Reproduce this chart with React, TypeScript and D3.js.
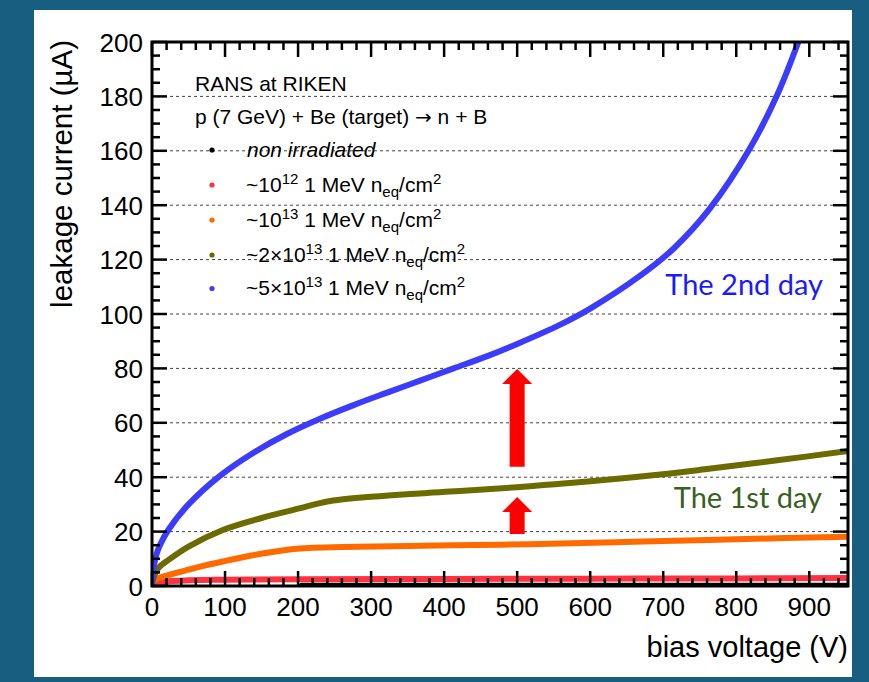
import * as d3 from 'd3';

// (bias voltage in V, leakage current in µA)
const nonIrrV = [205, 300, 400, 500, 600, 700, 800, 900, 953];
const nonIrrI = [0.1, 0.1, 0.1, 0.1, 0.1, 0.1, 0.1, 0.1, 0.1];

const e12V = [0, 10, 25, 50, 100, 200, 400, 600, 800, 953];
const e12I = [0, 1.2, 1.8, 2.1, 2.3, 2.5, 2.6, 2.7, 2.8, 2.9];

const e13V = [0, 2, 5, 10, 22, 50, 66, 97, 134, 160, 194, 215, 260, 350, 477, 559, 700, 800, 953];
const e13I = [0, 1.5, 2.3, 3, 4, 6, 7.1, 9, 11.1, 12.3, 13.6, 14, 14.3, 14.7, 15.2, 15.6, 16.5, 17.2, 18.1];

const e2x13V = [0, 2, 5, 10, 22, 50, 97, 150, 203, 227, 248, 300, 408, 500, 559, 600, 696, 757, 856, 953];
const e2x13I = [0, 3, 5, 7, 9.5, 14.5, 20.6, 25, 28.6, 30.3, 31.4, 32.8, 34.7, 36.3, 37.6, 38.5, 41, 42.9, 46.2, 49.6];

const e5x13V = [0, 1, 3, 6, 10, 22, 50, 93, 139, 184, 230, 276, 321, 367, 413, 460, 500, 559, 600, 668, 714, 764, 819, 856, 885];
const e5x13I = [0, 4.5, 8, 11.5, 14.5, 20.5, 30, 40.5, 49, 55.8, 61.5, 66.5, 71, 75.5, 80, 84.6, 89, 96.1, 102, 114, 124, 138.8, 161, 180.5, 200];

const seriesColors = ['#000000', '#ff3340', '#ff6a00', '#6b6b00', '#3c3cff'];

const xMajorTicks = [0, 100, 200, 300, 400, 500, 600, 700, 800, 900];
const yMajorTicks = [0, 20, 40, 60, 80, 100, 120, 140, 160, 180, 200];

// red arrows: [voltage, from µA, to µA]
const arrowSmall = [500, 19.1, 32.7];
const arrowBig = [500, 43.8, 79.8];

const series = [
  { v: nonIrrV, i: nonIrrI },
  { v: e12V, i: e12I },
  { v: e13V, i: e13I },
  { v: e2x13V, i: e2x13I },
  { v: e5x13V, i: e5x13I },
];

const W = 869;
const H = 682;
const plot = { left: 152, right: 848, top: 42, bottom: 586 };
const FONT = '"Liberation Sans", Arial, Helvetica, sans-serif';

export default function App() {
  const x = d3.scaleLinear().domain([0, 953]).range([plot.left, plot.right]);
  const y = d3.scaleLinear().domain([0, 200]).range([plot.bottom, plot.top]);

  const line = d3
    .line<[number, number]>()
    .x(d => x(d[0]))
    .y(d => y(d[1]))
    .curve(d3.curveCatmullRom.alpha(0.5));

  const xMinor = d3.range(0, 953, 20).filter(v => v % 100 !== 0);
  const yMinor = d3.range(0, 200, 5).filter(v => v % 20 !== 0);

  const arrow = (a: number[]) => {
    const cx = x(a[0]);
    const y0 = y(a[1]);
    const y1 = y(a[2]);
    const head = 15;
    const sw = 7.5;
    const hw = 15;
    return `M${cx - sw},${y0} L${cx - sw},${y1 + head} L${cx - hw},${y1 + head} L${cx},${y1} L${cx + hw},${y1 + head} L${cx + sw},${y1 + head} L${cx + sw},${y0} Z`;
  };

  const legendRows = [
    { color: seriesColors[0], my: 150 },
    { color: seriesColors[1], my: 185 },
    { color: seriesColors[2], my: 220 },
    { color: seriesColors[3], my: 255 },
    { color: seriesColors[4], my: 288.5 },
  ];

  const neq = (pre: string, exp: string, base: number) => (
    <text x={246} y={base} fontSize={21} fontFamily={FONT} fill="#000">
      <tspan>{pre}</tspan>
      <tspan dy={-8} fontSize={15}>{exp}</tspan>
      <tspan dy={8}> 1 MeV n</tspan>
      <tspan dy={5} fontSize={15}>eq</tspan>
      <tspan dy={-5}>/cm</tspan>
      <tspan dy={-8} fontSize={15}>2</tspan>
    </text>
  );

  return (
    <svg width={W} height={H} style={{ position: 'absolute', left: 0, top: 0 }}>
      <defs>
        <clipPath id="frame">
          <rect x={plot.left} y={plot.top} width={plot.right - plot.left} height={plot.bottom - plot.top} />
        </clipPath>
      </defs>
      <rect x={0} y={0} width={W} height={H} fill="#185e80" />
      <rect x={34} y={10} width={818} height={667} fill="#fff" />

      {/* grid */}
      {yMajorTicks.filter(t => t > 0 && t < 200).map(t => (
        <line key={t} x1={plot.left} x2={plot.right} y1={y(t)} y2={y(t)} stroke="#444" strokeWidth={1} strokeDasharray="3,3" />
      ))}

      {/* curves */}
      <g clipPath="url(#frame)">
        {series.map((s, k) => {
          const pts = s.v.map((v, j) => [v, s.i[j]] as [number, number]);
          return (
            <path key={k} d={line(pts) || ''} fill="none" stroke={seriesColors[k]} strokeWidth={6} strokeLinejoin="round" strokeLinecap="round" />
          );
        })}
      </g>

      {/* arrows */}
      <path d={arrow(arrowBig)} fill="#ff0000" />
      <path d={arrow(arrowSmall)} fill="#ff0000" />

      {/* frame and ticks */}
      <g stroke="#000">
        {xMajorTicks.map(t => (
          <g key={t}>
            <line x1={x(t)} x2={x(t)} y1={plot.bottom} y2={plot.bottom - 15} strokeWidth={2.5} />
            <line x1={x(t)} x2={x(t)} y1={plot.top} y2={plot.top + 15} strokeWidth={2.5} />
          </g>
        ))}
        {xMinor.map(t => (
          <g key={t}>
            <line x1={x(t)} x2={x(t)} y1={plot.bottom} y2={plot.bottom - 8} strokeWidth={2.5} />
            <line x1={x(t)} x2={x(t)} y1={plot.top} y2={plot.top + 8} strokeWidth={2.5} />
          </g>
        ))}
        {yMajorTicks.map(t => (
          <g key={t}>
            <line x1={plot.left} x2={plot.left + 15} y1={y(t)} y2={y(t)} strokeWidth={2.5} />
            <line x1={plot.right} x2={plot.right - 15} y1={y(t)} y2={y(t)} strokeWidth={2.5} />
          </g>
        ))}
        {yMinor.map(t => (
          <g key={t}>
            <line x1={plot.left} x2={plot.left + 8} y1={y(t)} y2={y(t)} strokeWidth={2.5} />
            <line x1={plot.right} x2={plot.right - 8} y1={y(t)} y2={y(t)} strokeWidth={2.5} />
          </g>
        ))}
        <rect x={plot.left} y={plot.top} width={plot.right - plot.left} height={plot.bottom - plot.top} fill="none" strokeWidth={3} />
      </g>

      {/* tick labels */}
      <g fontFamily={FONT} fontSize={26} fill="#000">
        {xMajorTicks.map(t => (
          <text key={t} x={x(t)} y={616} textAnchor="middle">{t}</text>
        ))}
        {yMajorTicks.map(t => (
          <text key={t} x={143} y={y(t) + 9.5} textAnchor="end">{t}</text>
        ))}
      </g>

      {/* axis titles */}
      <text x={848} y={657} textAnchor="end" fontFamily={FONT} fontSize={29} fill="#000">bias voltage (V)</text>
      <text transform="translate(72,40) rotate(-90)" textAnchor="end" fontFamily={FONT} fontSize={29.5} fill="#000">leakage current (µA)</text>

      {/* legend */}
      <text x={195} y={91} fontFamily={FONT} fontSize={21} fill="#000">RANS at RIKEN</text>
      <text x={195} y={124} fontFamily={FONT} fontSize={21} fill="#000">
        p (7 GeV) + Be (target) <tspan fontFamily="'DejaVu Sans', sans-serif" fontSize={20}>→</tspan> n + B
      </text>
      {legendRows.map((r, k) => (
        <circle key={k} cx={212} cy={r.my} r={2.6} fill={r.color} />
      ))}
      <text x={247} y={157} fontFamily={FONT} fontSize={21} fontStyle="italic" fill="#000">non irradiated</text>
      {neq('~10', '12', 192)}
      {neq('~10', '13', 226.5)}
      {neq('~2×10', '13', 261.5)}
      {neq('~5×10', '13', 295)}

      {/* annotations */}
      <text x={823} y={295} textAnchor="end" fontFamily="Lato, 'Open Sans', sans-serif" fontSize={29} fill="#1a1aff">The 2nd day</text>
      <text x={822} y={508} textAnchor="end" fontFamily="Lato, 'Open Sans', sans-serif" fontSize={29} fill="#386121">The 1st day</text>
    </svg>
  );
}
